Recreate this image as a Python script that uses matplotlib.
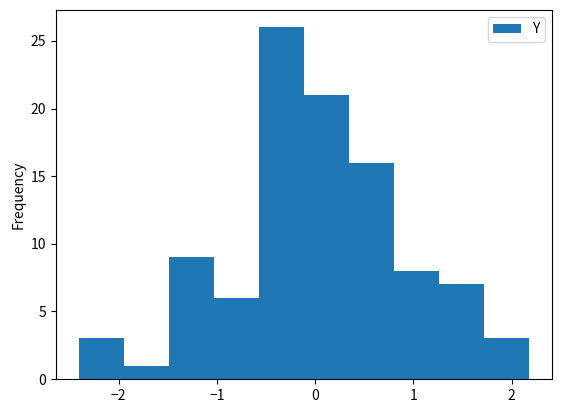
import matplotlib
matplotlib.use("Agg")
import matplotlib.pyplot as plt
import numpy as np

plt.rcParams['font.family'] = ['Noto Sans CJK JP', 'DejaVu Sans']

# histogram of column Y, 10 bins
counts = [3, 1, 9, 6, 26, 21, 16, 8, 7, 3]
lo, hi = -2.408, 2.183
edges = np.linspace(lo, hi, len(counts) + 1)
centers = (edges[:-1] + edges[1:]) / 2

fig = plt.figure(figsize=(5.61, 4.12), dpi=100)
ax = fig.add_axes([0.0998, 0.080, 0.8842, 0.896])
ax.hist(centers, bins=edges, weights=counts, color='#1f77b4', label='Y')
ax.set_ylabel('Frequency')
ax.legend(loc='upper right')
fig.savefig('out.png', dpi=100)
